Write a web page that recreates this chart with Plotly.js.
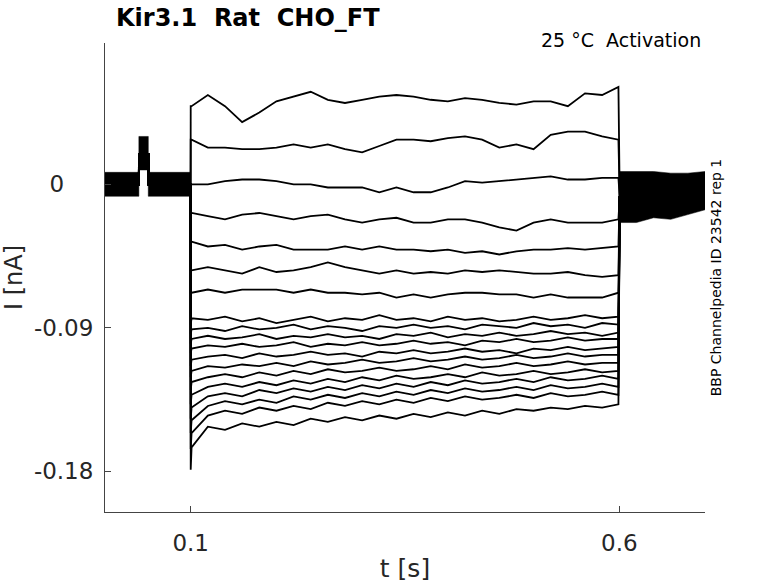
<!DOCTYPE html>
<html>
<head>
<meta charset="utf-8">
<script src="https://cdn.plot.ly/plotly-3.0.1.min.js"></script>
<style>
  html, body { margin: 0; padding: 0; background: #fff; }
  #plot { width: 778px; height: 583px; }
</style>
</head>
<body>
<div id="plot"></div>
<script>
// holding / pre-pulse section, shared by all sweeps (s, nA)
var preT = [0, 0.0395, 0.0396, 0.0505, 0.0506, 0.0999];
var preI = [0, 0, 0.019, 0.019, 0, 0];

// noise envelope of the overlapped sweeps before the step and after it
var preBandT = [0, 0.0395, 0.0395, 0.0505, 0.0505, 0.0995];
var preBandHi = [0.0075, 0.0075, 0.030, 0.030, 0.0075, 0.0075];
var preBandLo = [-0.0075, -0.0075, 0.009, 0.009, -0.0075, -0.0075];
var postBandT = [0.6, 0.62, 0.64, 0.66, 0.68, 0.7];
var postBandHi = [0.008, 0.008, 0.008, 0.007, 0.007, 0.008];
var postBandLo = [-0.024, -0.024, -0.021, -0.022, -0.019, -0.016];

// tail after the step
var postT = [0.6005, 0.7];
var postI = [-0.008, -0.004];

// step section, read every 20 ms
var stepT = [0.101, 0.12, 0.14, 0.16, 0.18, 0.20, 0.22, 0.24, 0.26, 0.28, 0.30, 0.32, 0.34,
             0.36, 0.38, 0.40, 0.42, 0.44, 0.46, 0.48, 0.50, 0.52, 0.54, 0.56, 0.58, 0.599];

// current right at the step onset, one per sweep
var onsetI = [0.049, 0.028, 0.000, -0.018, -0.036, -0.054, -0.068,
              -0.088, -0.094, -0.100, -0.106, -0.114, -0.121, -0.129, -0.138, -0.147, -0.156, -0.166, -0.179];

var sweep1 = [0.049,0.056,0.049,0.039,0.045,0.052,0.055,0.058,0.053,0.051,0.053,0.055,0.056,0.055,0.053,0.052,0.054,0.053,0.051,0.050,0.052,0.052,0.049,0.057,0.056,0.061];
var sweep2 = [0.028,0.023,0.023,0.022,0.022,0.023,0.025,0.023,0.025,0.022,0.020,0.024,0.028,0.028,0.027,0.029,0.030,0.028,0.023,0.025,0.022,0.031,0.033,0.033,0.030,0.028];
var sweep3 = [0.000,0.000,0.002,0.003,0.003,0.002,0.000,0.000,-0.002,-0.002,-0.002,-0.005,-0.002,-0.005,-0.005,-0.002,0.002,0.001,0.002,0.003,0.004,0.005,0.003,0.003,0.004,0.004];
var sweep4 = [-0.018,-0.020,-0.022,-0.019,-0.018,-0.020,-0.022,-0.020,-0.019,-0.022,-0.024,-0.022,-0.021,-0.024,-0.024,-0.022,-0.022,-0.024,-0.027,-0.029,-0.024,-0.022,-0.024,-0.024,-0.024,-0.022];
var sweep5 = [-0.036,-0.039,-0.038,-0.041,-0.039,-0.038,-0.041,-0.041,-0.041,-0.039,-0.041,-0.039,-0.041,-0.041,-0.042,-0.041,-0.043,-0.042,-0.044,-0.042,-0.041,-0.041,-0.040,-0.041,-0.040,-0.039];
var sweep6 = [-0.054,-0.052,-0.054,-0.056,-0.052,-0.055,-0.054,-0.052,-0.049,-0.052,-0.054,-0.056,-0.054,-0.056,-0.055,-0.056,-0.054,-0.055,-0.054,-0.055,-0.056,-0.056,-0.055,-0.057,-0.058,-0.057];
var sweep7 = [-0.068,-0.066,-0.068,-0.066,-0.066,-0.066,-0.068,-0.066,-0.068,-0.068,-0.069,-0.068,-0.071,-0.069,-0.071,-0.069,-0.068,-0.068,-0.069,-0.069,-0.071,-0.069,-0.071,-0.071,-0.071,-0.068];
var sweep8 = [-0.084,-0.085,-0.083,-0.086,-0.084,-0.087,-0.085,-0.083,-0.086,-0.084,-0.085,-0.082,-0.085,-0.084,-0.086,-0.083,-0.085,-0.084,-0.086,-0.085,-0.083,-0.085,-0.084,-0.082,-0.084,-0.083];
var sweep9 = [-0.091,-0.090,-0.092,-0.089,-0.091,-0.090,-0.088,-0.091,-0.089,-0.090,-0.092,-0.089,-0.090,-0.088,-0.090,-0.089,-0.091,-0.088,-0.089,-0.090,-0.087,-0.089,-0.088,-0.090,-0.087,-0.088];
var sweep10 = [-0.097,-0.095,-0.097,-0.096,-0.094,-0.097,-0.095,-0.096,-0.094,-0.096,-0.095,-0.097,-0.094,-0.095,-0.093,-0.096,-0.094,-0.095,-0.093,-0.095,-0.094,-0.092,-0.094,-0.093,-0.095,-0.093];
var sweep11 = [-0.103,-0.101,-0.102,-0.100,-0.102,-0.101,-0.099,-0.102,-0.100,-0.101,-0.099,-0.101,-0.100,-0.098,-0.100,-0.099,-0.101,-0.098,-0.099,-0.097,-0.099,-0.098,-0.096,-0.098,-0.097,-0.097];
var sweep12 = [-0.110,-0.108,-0.107,-0.109,-0.106,-0.108,-0.107,-0.105,-0.107,-0.106,-0.108,-0.105,-0.106,-0.104,-0.106,-0.105,-0.103,-0.105,-0.104,-0.106,-0.103,-0.104,-0.102,-0.104,-0.103,-0.102];
var sweep13 = [-0.117,-0.114,-0.115,-0.113,-0.114,-0.112,-0.114,-0.111,-0.113,-0.112,-0.110,-0.112,-0.111,-0.109,-0.111,-0.110,-0.108,-0.110,-0.109,-0.107,-0.109,-0.108,-0.106,-0.108,-0.107,-0.107];
var sweep14 = [-0.124,-0.121,-0.119,-0.121,-0.118,-0.120,-0.117,-0.119,-0.116,-0.118,-0.117,-0.115,-0.117,-0.116,-0.114,-0.116,-0.113,-0.115,-0.114,-0.112,-0.114,-0.113,-0.111,-0.113,-0.112,-0.112];
var sweep15 = [-0.132,-0.127,-0.125,-0.127,-0.124,-0.126,-0.123,-0.125,-0.122,-0.124,-0.121,-0.123,-0.120,-0.122,-0.121,-0.119,-0.121,-0.118,-0.120,-0.119,-0.117,-0.119,-0.118,-0.116,-0.118,-0.117];
var sweep16 = [-0.140,-0.133,-0.131,-0.133,-0.129,-0.131,-0.128,-0.130,-0.127,-0.129,-0.126,-0.128,-0.125,-0.127,-0.124,-0.126,-0.123,-0.125,-0.124,-0.122,-0.124,-0.121,-0.123,-0.122,-0.120,-0.122];
var sweep17 = [-0.148,-0.139,-0.136,-0.138,-0.135,-0.137,-0.133,-0.135,-0.132,-0.134,-0.131,-0.133,-0.130,-0.132,-0.129,-0.131,-0.128,-0.130,-0.129,-0.127,-0.129,-0.126,-0.128,-0.127,-0.125,-0.127];
var sweep18 = [-0.156,-0.145,-0.142,-0.144,-0.140,-0.142,-0.139,-0.141,-0.137,-0.139,-0.136,-0.138,-0.135,-0.137,-0.134,-0.136,-0.133,-0.135,-0.134,-0.132,-0.134,-0.131,-0.133,-0.132,-0.130,-0.132];
var sweep19 = [-0.165,-0.152,-0.154,-0.150,-0.152,-0.149,-0.151,-0.147,-0.149,-0.146,-0.148,-0.145,-0.147,-0.144,-0.146,-0.143,-0.145,-0.142,-0.144,-0.141,-0.142,-0.140,-0.141,-0.139,-0.140,-0.138];

var sweeps = [sweep1, sweep2, sweep3, sweep4, sweep5, sweep6, sweep7, sweep8, sweep9, sweep10,
              sweep11, sweep12, sweep13, sweep14, sweep15, sweep16, sweep17, sweep18, sweep19];

var yTickVals = [-0.18, -0.09, 0];
var yTickText = ['-0.18', '-0.09', '0\u00a0\u00a0\u00a0\u00a0'];
var xTickVals = [0.1, 0.6];
var xTickText = ['0.1', '0.6'];

var font = 'DejaVu Sans, Liberation Sans, sans-serif';
var data = [];

function band(t, lo, hi) {
  data.push({x: t, y: lo, mode: 'lines', line: {color: '#000', width: 0.5},
             hoverinfo: 'skip', showlegend: false});
  data.push({x: t, y: hi, mode: 'lines', line: {color: '#000', width: 0.5},
             fill: 'tonexty', fillcolor: '#000', hoverinfo: 'skip', showlegend: false});
}
band(preBandT, preBandLo, preBandHi);
band(postBandT, postBandLo, postBandHi);

sweeps.forEach(function (s, k) {
  data.push({
    x: preT.concat([0.1], stepT, postT),
    y: preI.concat([onsetI[k]], s, postI),
    mode: 'lines',
    line: {color: '#000', width: 1.8},
    showlegend: false
  });
});

var layout = {
  width: 778, height: 583,
  margin: {l: 105, r: 73, t: 43, b: 71},
  paper_bgcolor: '#fff', plot_bgcolor: '#fff',
  showlegend: false,
  font: {family: font, color: '#262626'},
  xaxis: {
    range: [0, 0.7], tickvals: xTickVals, ticktext: xTickText,
    ticks: 'inside', ticklen: 6, tickcolor: '#444', tickwidth: 1,
    showline: true, linecolor: '#444', linewidth: 1,
    showgrid: false, zeroline: false, ticklabelstandoff: 10,
    tickfont: {family: font, size: 23, color: '#262626'},
    title: {text: 't [s]', font: {family: font, size: 25, color: '#262626'}, standoff: 8}
  },
  yaxis: {
    range: [-0.2055, 0.0886], tickvals: yTickVals, ticktext: yTickText,
    ticks: 'inside', ticklen: 6, tickcolor: '#444', tickwidth: 1,
    showline: true, linecolor: '#444', linewidth: 1,
    showgrid: false, zeroline: false, ticklabelstandoff: 6,
    tickfont: {family: font, size: 23, color: '#262626'},
    title: {text: 'I [nA]', font: {family: font, size: 24, color: '#262626'}, standoff: 12}
  },
  annotations: [
    {text: '<b>Kir3.1  Rat  CHO_FT</b>', xref: 'paper', yref: 'paper', x: 0.015, y: 1.053,
     xanchor: 'left', yanchor: 'middle', showarrow: false,
     font: {family: font, size: 24, color: '#000'}},
    {text: '25 °C  Activation', xref: 'paper', yref: 'paper', x: 0.997, y: 1.006,
     xanchor: 'right', yanchor: 'middle', showarrow: false,
     font: {family: font, size: 19, color: '#000'}},
    {text: 'BBP Channelpedia ID 23542 rep 1', xref: 'paper', yref: 'paper', x: 1.018, y: 0.5,
     xanchor: 'center', yanchor: 'middle', textangle: -90, showarrow: false,
     font: {family: font, size: 14, color: '#000'}}
  ]
};

Plotly.newPlot('plot', data, layout, {displayModeBar: false, staticPlot: true});
</script>
</body>
</html>
